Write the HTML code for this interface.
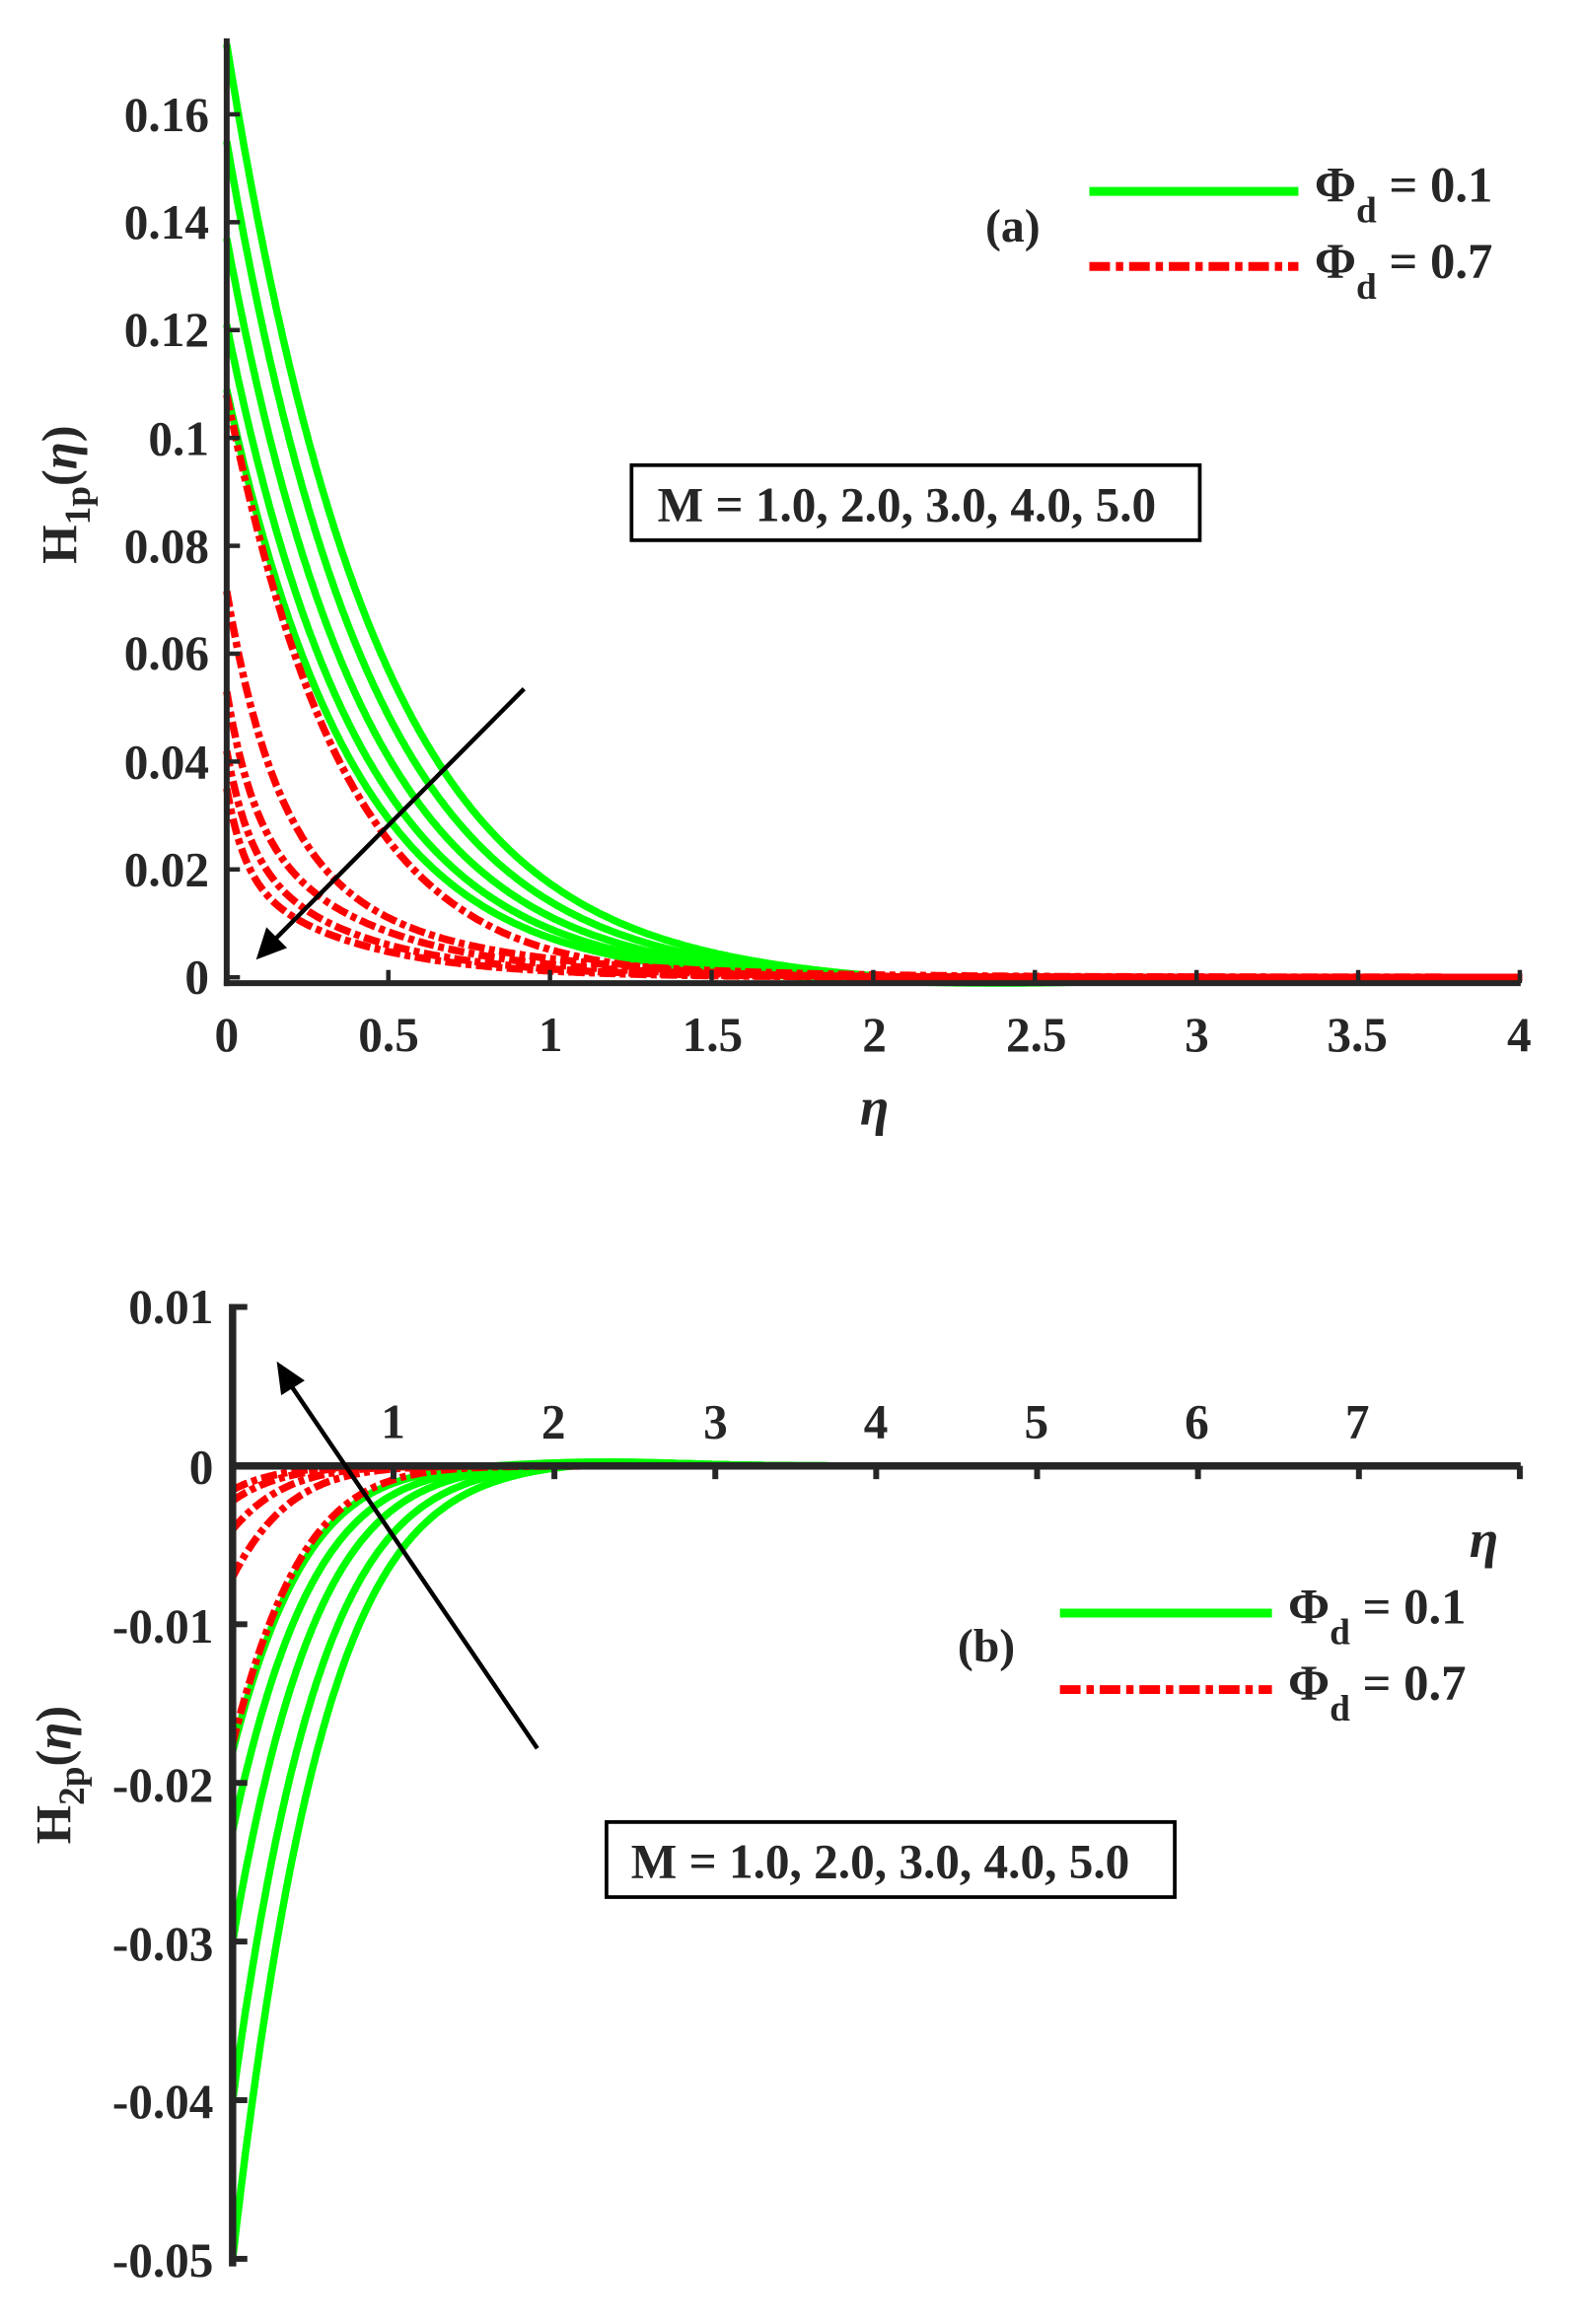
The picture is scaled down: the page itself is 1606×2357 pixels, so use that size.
<!DOCTYPE html>
<html><head><meta charset="utf-8"><style>
html,body{margin:0;padding:0;background:#fff}
svg{display:block}
text{font-family:"Liberation Serif",serif;font-weight:bold;fill:#262626}
</style></head><body>
<svg id="s" width="1606" height="2357" viewBox="0 0 1076 1579" xmlns="http://www.w3.org/2000/svg">
<g id="curves"></g>
<g stroke="#262626" stroke-width="4" fill="none">
<line x1="154" y1="26" x2="154" y2="670"/>
<line x1="152" y1="668" x2="1033" y2="668"/>
</g>
<g stroke="#262626" stroke-width="3" id="tt"></g>
<g font-size="33" text-anchor="end">
<text x="142" y="89">0.16</text><text x="142" y="162">0.14</text><text x="142" y="235">0.12</text>
<text x="142" y="309">0.1</text><text x="142" y="382">0.08</text><text x="142" y="455">0.06</text>
<text x="142" y="529">0.04</text><text x="142" y="602">0.02</text><text x="142" y="675">0</text>
</g>
<g font-size="33" text-anchor="middle">
<text x="154" y="714">0</text><text x="264" y="714">0.5</text><text x="374" y="714">1</text><text x="484" y="714">1.5</text>
<text x="594" y="714">2</text><text x="704" y="714">2.5</text><text x="813" y="714">3</text><text x="922" y="714">3.5</text><text x="1032" y="714">4</text>
</g>
<text x="594" y="764" font-size="36" font-style="italic" text-anchor="middle">η</text>
<text transform="translate(52,336) rotate(-90)" font-size="34" text-anchor="middle">H<tspan font-size="25" dy="9">1p</tspan><tspan dy="-9">(</tspan><tspan font-style="italic">η</tspan>)</text>
<line x1="740" y1="130" x2="882" y2="130" stroke="#00ff00" stroke-width="6"/>
<line x1="740" y1="181" x2="882" y2="181" stroke="#ff0000" stroke-width="6" stroke-dasharray="14,4,5,4"/>
<text x="893" y="137" font-size="34">Φ<tspan font-size="25" dy="14">d</tspan><tspan dy="-14"> = 0.1</tspan></text>
<text x="893" y="189" font-size="34">Φ<tspan font-size="25" dy="14">d</tspan><tspan dy="-14"> = 0.7</tspan></text>
<text x="688" y="164" font-size="32" text-anchor="middle">(a)</text>
<rect x="429" y="316" width="386" height="51" fill="#fff" stroke="#000" stroke-width="2.5"/>
<text x="616" y="354" font-size="33" text-anchor="middle">M = 1.0, 2.0, 3.0, 4.0, 5.0</text>
<line x1="356" y1="468" x2="184" y2="641" stroke="#000" stroke-width="3"/>
<polygon points="174,652 181,630 195,644" fill="#000"/>

<g stroke="#262626" stroke-width="5" fill="none">
<line x1="158" y1="886" x2="158" y2="1540"/>
<line x1="156" y1="996" x2="1033" y2="996"/>
</g>
<g stroke="#262626" stroke-width="4" id="bt"></g>
<g font-size="33" text-anchor="end">
<text x="145" y="899">0.01</text><text x="145" y="1008">0</text><text x="145" y="1116">-0.01</text>
<text x="145" y="1224">-0.02</text><text x="145" y="1332">-0.03</text><text x="145" y="1439">-0.04</text><text x="145" y="1547">-0.05</text>
</g>
<g font-size="33" text-anchor="middle">
<text x="267" y="977">1</text><text x="376" y="977">2</text><text x="486" y="977">3</text><text x="595" y="977">4</text>
<text x="704" y="977">5</text><text x="813" y="977">6</text><text x="922" y="977">7</text>
</g>
<text x="1008" y="1058" font-size="36" font-style="italic" text-anchor="middle">η</text>
<text transform="translate(48,1206) rotate(-90)" font-size="34" text-anchor="middle">H<tspan font-size="25" dy="9">2p</tspan><tspan dy="-9">(</tspan><tspan font-style="italic">η</tspan>)</text>
<line x1="720" y1="1096" x2="864" y2="1096" stroke="#00ff00" stroke-width="6"/>
<line x1="720" y1="1148" x2="864" y2="1148" stroke="#ff0000" stroke-width="6" stroke-dasharray="14,4,5,4"/>
<text x="875" y="1103" font-size="34">Φ<tspan font-size="25" dy="14">d</tspan><tspan dy="-14"> = 0.1</tspan></text>
<text x="875" y="1155" font-size="34">Φ<tspan font-size="25" dy="14">d</tspan><tspan dy="-14"> = 0.7</tspan></text>
<text x="670" y="1129" font-size="32" text-anchor="middle">(b)</text>
<rect x="412" y="1238" width="386" height="51" fill="#fff" stroke="#000" stroke-width="2.5"/>
<text x="598" y="1276" font-size="33" text-anchor="middle">M = 1.0, 2.0, 3.0, 4.0, 5.0</text>
<line x1="365" y1="1188" x2="194" y2="936" stroke="#000" stroke-width="3"/>
<polygon points="188,925 207,938 191,948" fill="#000"/>
</svg>
<script>
var NS="http://www.w3.org/2000/svg";
var g=document.getElementById("curves");
function add(d,col,dash){var p=document.createElementNS(NS,"path");p.setAttribute("d",d);p.setAttribute("fill","none");p.setAttribute("stroke",col);p.setAttribute("stroke-width","5");if(dash)p.setAttribute("stroke-dasharray","11,3,4,3");g.appendChild(p);}
function draw(fn,xmax,X0,XS,Y0,YS,col,dash){var s="";for(var i=0;i<=600;i++){var e=xmax*i/600;var v=fn(e);s+=(i?"L":"M")+(X0+XS*e).toFixed(1)+","+(Y0-YS*v).toFixed(1);}add(s,col,dash);}
function ex(A,a,b,und){return function(e){return A*Math.exp(-a*e-b*e*e)+und*Math.exp(-Math.pow((e-2.3)/0.7,2));};}
function mix(A,w,k1,k2){return function(e){return A*(w*Math.exp(-k1*e)+(1-w)*Math.exp(-k2*e));};}
var TX=154,TS=220,TY=664,TYS=3665;
var gt=[[0.173,2.15,0.15],[0.155,2.25,0.15],[0.137,2.35,0.15],[0.121,2.45,0.15],[0.109,2.55,0.15]];
gt.forEach(function(c){draw(ex(c[0],c[1],c[2],-0.0012),4,TX,TS,TY,TYS,"#00ff00",false);});
draw(ex(0.108,2.75,0.3,0),4,TX,TS,TY,TYS,"#ff0000",true);
draw(mix(0.0716,0.65,6.5,2.0),4,TX,TS,TY,TYS,"#ff0000",true);
draw(mix(0.053,0.45,12,2.5),4,TX,TS,TY,TYS,"#ff0000",true);
draw(mix(0.042,0.45,14,2.7),4,TX,TS,TY,TYS,"#ff0000",true);
draw(mix(0.035,0.45,18,2.8),4,TX,TS,TY,TYS,"#ff0000",true);
var gb=[[-0.018,2.2,0.6],[-0.023,2.05,0.5],[-0.030,1.95,0.45],[-0.040,1.85,0.4],[-0.050,1.76,0.36]];
gb.forEach(function(c){draw(ex(c[0],c[1],c[2],0.00025),8,158,109.3,996,10780,"#00ff00",false);});
var rb=[[-0.0175,2.3,0.7],[-0.007,2.8,0.8],[-0.004,3.0,0.9],[-0.0022,3.2,1.0],[-0.0015,3.4,1.0]];
rb.forEach(function(c){draw(ex(c[0],c[1],c[2],0),8,158,109.3,996,10780,"#ff0000",true);});
function tick(id,x1,y1,x2,y2){var l=document.createElementNS(NS,"line");l.setAttribute("x1",x1);l.setAttribute("y1",y1);l.setAttribute("x2",x2);l.setAttribute("y2",y2);document.getElementById(id).appendChild(l);}
for(var i=0;i<=8;i++){var y=TY-73.3*i;tick("tt",154,y,163,y);var x=154+109.8*i;tick("tt",x,668,x,659);}
for(var i=0;i<7;i++){var y=888+107.8*i;tick("bt",158,y,168,y);}
for(var i=1;i<=8;i++){var x=158+109.3*i;tick("bt",x,996,x,1005);}
</script>
</body></html>
